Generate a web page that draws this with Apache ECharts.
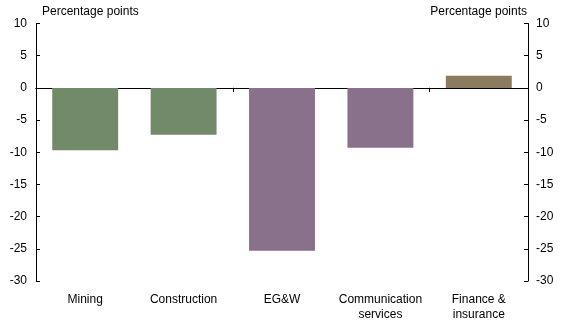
<!DOCTYPE html>
<html>
<head>
<meta charset="utf-8">
<script src="https://cdn.jsdelivr.net/npm/echarts@6/dist/echarts.min.js"></script>
<style>html,body{margin:0;padding:0;background:#fff}#c{width:569px;height:326px}</style>
</head>
<body>
<div id="c"></div>
<script>
const categories = ['Mining', 'Construction', 'EG&W', 'Communication\nservices', 'Finance &\ninsurance'];
const values = [-9.7, -7.3, -25.3, -9.3, 1.9];
const barColors = ['#728a69', '#728a69', '#89708b', '#89708b', '#8b7c5f'];
const yTicks = { min: -30, max: 10, interval: 5 };
const axisTitle = 'Percentage points';

const font = 'Liberation Sans, Arial, sans-serif';
const chart = echarts.init(document.getElementById('c'), null, { renderer: 'canvas' });
const grid = { left: 36, right: 41, top: 23.5, bottom: 45 };
const yCommon = {
  type: 'value', min: yTicks.min, max: yTicks.max, interval: yTicks.interval,
  splitLine: { show: false },
  axisLine: { show: true, lineStyle: { color: '#000', width: 1 } },
  axisTick: { show: true, inside: true, length: 4, lineStyle: { color: '#000' } },
  axisLabel: { color: '#000', fontFamily: font, fontSize: 12 }
};
chart.setOption({
  animation: false,
  grid: grid,
  xAxis: [
    { type: 'category', data: categories, axisLine: { onZero: true, lineStyle: { color: '#000' } },
      axisTick: { show: true, length: 4, lineStyle: { color: '#000' } }, axisLabel: { show: false } },
    { type: 'category', data: categories, axisLine: { onZero: true, lineStyle: { color: '#000' } },
      axisTick: { show: true, inside: true, length: 4, lineStyle: { color: '#000' } }, axisLabel: { show: false } },
    { type: 'category', data: categories, position: 'bottom', axisLine: { show: false, onZero: false },
      axisTick: { show: false },
      axisLabel: { color: '#000', fontFamily: font, fontSize: 12, margin: 11, lineHeight: 15, interval: 0 } }
  ],
  yAxis: [
    Object.assign({}, yCommon, { position: 'left', axisLabel: Object.assign({}, yCommon.axisLabel, { margin: 9 }) }),
    Object.assign({}, yCommon, { position: 'right', axisLabel: Object.assign({}, yCommon.axisLabel, { margin: 8 }) })
  ],
  graphic: [
    { type: 'text', left: 42, top: 6, style: { text: axisTitle, fontFamily: font, fontSize: 12, fill: '#000' } },
    { type: 'text', right: 42, top: 6, style: { text: axisTitle, fontFamily: font, fontSize: 12, fill: '#000' } }
  ],
  series: [{
    type: 'bar', xAxisIndex: 0, yAxisIndex: 0, barWidth: '67%',
    data: values.map((v, i) => ({ value: v, itemStyle: { color: barColors[i] } }))
  }]
});
</script>
</body>
</html>
